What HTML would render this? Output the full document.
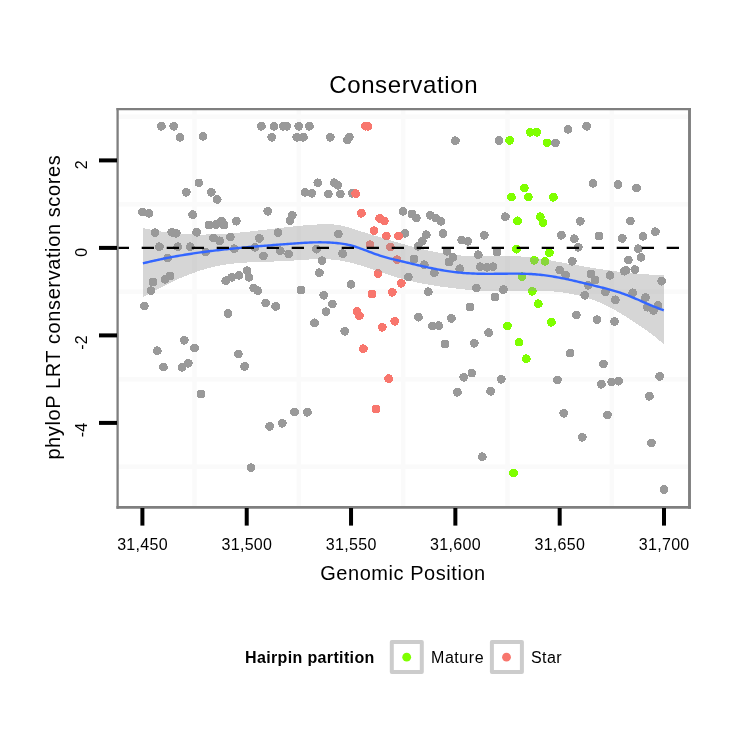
<!DOCTYPE html>
<html><head><meta charset="utf-8"><style>
html,body{margin:0;padding:0;background:#fff;}
svg{display:block;will-change:transform;}
text{font-family:"Liberation Sans",Arial,sans-serif;fill:#000;}
</style></head><body>
<svg width="750" height="750" viewBox="0 0 750 750">
<rect width="750" height="750" fill="#fff"/>
<g stroke="#FAFAFA" stroke-width="4.5">
<line x1="194.56" y1="109.1" x2="194.56" y2="507.2"/>
<line x1="298.88" y1="109.1" x2="298.88" y2="507.2"/>
<line x1="403.2" y1="109.1" x2="403.2" y2="507.2"/>
<line x1="507.52" y1="109.1" x2="507.52" y2="507.2"/>
<line x1="611.84" y1="109.1" x2="611.84" y2="507.2"/>
<line x1="117.6" y1="116.65" x2="689.4" y2="116.65"/>
<line x1="117.6" y1="204.15" x2="689.4" y2="204.15"/>
<line x1="117.6" y1="291.65" x2="689.4" y2="291.65"/>
<line x1="117.6" y1="379.15" x2="689.4" y2="379.15"/>
<line x1="117.6" y1="466.65" x2="689.4" y2="466.65"/>
</g>
<g shape-rendering="crispEdges">
<circle cx="161.4" cy="126.3" r="4.4" fill="#999999"/>
<circle cx="173.7" cy="126.3" r="4.4" fill="#999999"/>
<circle cx="180.1" cy="137.3" r="4.4" fill="#999999"/>
<circle cx="203" cy="136.3" r="4.4" fill="#999999"/>
<circle cx="198.9" cy="182.9" r="4.4" fill="#999999"/>
<circle cx="186.3" cy="192.3" r="4.4" fill="#999999"/>
<circle cx="211.3" cy="192.3" r="4.4" fill="#999999"/>
<circle cx="217.3" cy="199.5" r="4.4" fill="#999999"/>
<circle cx="261.4" cy="126.3" r="4.4" fill="#999999"/>
<circle cx="274.1" cy="126.3" r="4.4" fill="#999999"/>
<circle cx="283.3" cy="126.3" r="4.4" fill="#999999"/>
<circle cx="286.6" cy="126.3" r="4.4" fill="#999999"/>
<circle cx="298.7" cy="126.3" r="4.4" fill="#999999"/>
<circle cx="309.4" cy="126.3" r="4.4" fill="#999999"/>
<circle cx="271.7" cy="137.3" r="4.4" fill="#999999"/>
<circle cx="296.7" cy="137.3" r="4.4" fill="#999999"/>
<circle cx="303.4" cy="137.3" r="4.4" fill="#999999"/>
<circle cx="305" cy="192.3" r="4.4" fill="#999999"/>
<circle cx="311.7" cy="193.3" r="4.4" fill="#999999"/>
<circle cx="330.3" cy="137.3" r="4.4" fill="#999999"/>
<circle cx="347.2" cy="140.1" r="4.4" fill="#999999"/>
<circle cx="349.3" cy="137.1" r="4.4" fill="#999999"/>
<circle cx="317.8" cy="182.8" r="4.4" fill="#999999"/>
<circle cx="334.3" cy="182.7" r="4.4" fill="#999999"/>
<circle cx="337.7" cy="185.3" r="4.4" fill="#999999"/>
<circle cx="328.3" cy="194" r="4.4" fill="#999999"/>
<circle cx="340.3" cy="194" r="4.4" fill="#999999"/>
<circle cx="352.3" cy="193.3" r="4.4" fill="#999999"/>
<circle cx="455.4" cy="140.7" r="4.4" fill="#999999"/>
<circle cx="499" cy="140.4" r="4.4" fill="#999999"/>
<circle cx="555.4" cy="142.9" r="4.4" fill="#999999"/>
<circle cx="567.9" cy="129.3" r="4.4" fill="#999999"/>
<circle cx="586.6" cy="126.3" r="4.4" fill="#999999"/>
<circle cx="593" cy="183.3" r="4.4" fill="#999999"/>
<circle cx="618" cy="184.5" r="4.4" fill="#999999"/>
<circle cx="636.6" cy="188" r="4.4" fill="#999999"/>
<circle cx="142.3" cy="212" r="4.4" fill="#999999"/>
<circle cx="149" cy="213.3" r="4.4" fill="#999999"/>
<circle cx="192.6" cy="214.7" r="4.4" fill="#999999"/>
<circle cx="155" cy="232.7" r="4.4" fill="#999999"/>
<circle cx="171.7" cy="232.3" r="4.4" fill="#999999"/>
<circle cx="176.3" cy="233.3" r="4.4" fill="#999999"/>
<circle cx="196.6" cy="232.3" r="4.4" fill="#999999"/>
<circle cx="209" cy="225" r="4.4" fill="#999999"/>
<circle cx="216" cy="224.4" r="4.4" fill="#999999"/>
<circle cx="221.6" cy="221" r="4.4" fill="#999999"/>
<circle cx="224" cy="225" r="4.4" fill="#999999"/>
<circle cx="236.3" cy="221.2" r="4.4" fill="#999999"/>
<circle cx="213.5" cy="237.9" r="4.4" fill="#999999"/>
<circle cx="219.7" cy="240.8" r="4.4" fill="#999999"/>
<circle cx="230.3" cy="237" r="4.4" fill="#999999"/>
<circle cx="159.4" cy="246.7" r="4.4" fill="#999999"/>
<circle cx="177.7" cy="246.7" r="4.4" fill="#999999"/>
<circle cx="190.3" cy="246.7" r="4.4" fill="#999999"/>
<circle cx="205.7" cy="252" r="4.4" fill="#999999"/>
<circle cx="167.7" cy="258" r="4.4" fill="#999999"/>
<circle cx="170" cy="276" r="4.4" fill="#999999"/>
<circle cx="165" cy="279.3" r="4.4" fill="#999999"/>
<circle cx="153" cy="282" r="4.4" fill="#999999"/>
<circle cx="151" cy="290.7" r="4.4" fill="#999999"/>
<circle cx="144.3" cy="306" r="4.4" fill="#999999"/>
<circle cx="267.7" cy="211.3" r="4.4" fill="#999999"/>
<circle cx="292.3" cy="215.3" r="4.4" fill="#999999"/>
<circle cx="290" cy="220.7" r="4.4" fill="#999999"/>
<circle cx="278" cy="232.7" r="4.4" fill="#999999"/>
<circle cx="259.4" cy="238.4" r="4.4" fill="#999999"/>
<circle cx="234.3" cy="248.7" r="4.4" fill="#999999"/>
<circle cx="255" cy="247.3" r="4.4" fill="#999999"/>
<circle cx="263.4" cy="256" r="4.4" fill="#999999"/>
<circle cx="280.3" cy="250.7" r="4.4" fill="#999999"/>
<circle cx="288.7" cy="254" r="4.4" fill="#999999"/>
<circle cx="225.7" cy="280.7" r="4.4" fill="#999999"/>
<circle cx="231.7" cy="277.3" r="4.4" fill="#999999"/>
<circle cx="239" cy="275.3" r="4.4" fill="#999999"/>
<circle cx="247" cy="270.7" r="4.4" fill="#999999"/>
<circle cx="249" cy="277.3" r="4.4" fill="#999999"/>
<circle cx="253.7" cy="288" r="4.4" fill="#999999"/>
<circle cx="257.7" cy="290.7" r="4.4" fill="#999999"/>
<circle cx="301" cy="290" r="4.4" fill="#999999"/>
<circle cx="265.7" cy="303" r="4.4" fill="#999999"/>
<circle cx="275.7" cy="306.5" r="4.4" fill="#999999"/>
<circle cx="403" cy="211.3" r="4.4" fill="#999999"/>
<circle cx="412" cy="214" r="4.4" fill="#999999"/>
<circle cx="416.3" cy="218" r="4.4" fill="#999999"/>
<circle cx="338.3" cy="234" r="4.4" fill="#999999"/>
<circle cx="405" cy="233.3" r="4.4" fill="#999999"/>
<circle cx="316.5" cy="249.3" r="4.4" fill="#999999"/>
<circle cx="342.6" cy="253.6" r="4.4" fill="#999999"/>
<circle cx="414" cy="259" r="4.4" fill="#999999"/>
<circle cx="322.1" cy="260.7" r="4.4" fill="#999999"/>
<circle cx="319.4" cy="272.7" r="4.4" fill="#999999"/>
<circle cx="408.3" cy="277.1" r="4.4" fill="#999999"/>
<circle cx="351" cy="284.3" r="4.4" fill="#999999"/>
<circle cx="323.7" cy="295.3" r="4.4" fill="#999999"/>
<circle cx="332.3" cy="304" r="4.4" fill="#999999"/>
<circle cx="430.3" cy="215.3" r="4.4" fill="#999999"/>
<circle cx="435.7" cy="218" r="4.4" fill="#999999"/>
<circle cx="441" cy="221.3" r="4.4" fill="#999999"/>
<circle cx="505.4" cy="216.7" r="4.4" fill="#999999"/>
<circle cx="426.3" cy="234.7" r="4.4" fill="#999999"/>
<circle cx="422.3" cy="241.3" r="4.4" fill="#999999"/>
<circle cx="418" cy="246.3" r="4.4" fill="#999999"/>
<circle cx="443" cy="233.6" r="4.4" fill="#999999"/>
<circle cx="461.7" cy="240" r="4.4" fill="#999999"/>
<circle cx="467.7" cy="241.3" r="4.4" fill="#999999"/>
<circle cx="484.3" cy="235.3" r="4.4" fill="#999999"/>
<circle cx="447" cy="251.3" r="4.4" fill="#999999"/>
<circle cx="453" cy="257.3" r="4.4" fill="#999999"/>
<circle cx="449" cy="262" r="4.4" fill="#999999"/>
<circle cx="478.3" cy="254.7" r="4.4" fill="#999999"/>
<circle cx="497" cy="252" r="4.4" fill="#999999"/>
<circle cx="424.3" cy="264.7" r="4.4" fill="#999999"/>
<circle cx="434.3" cy="272.7" r="4.4" fill="#999999"/>
<circle cx="459.7" cy="268.7" r="4.4" fill="#999999"/>
<circle cx="480.3" cy="266.7" r="4.4" fill="#999999"/>
<circle cx="487" cy="267.3" r="4.4" fill="#999999"/>
<circle cx="493" cy="266.7" r="4.4" fill="#999999"/>
<circle cx="428.3" cy="291.7" r="4.4" fill="#999999"/>
<circle cx="476.3" cy="288" r="4.4" fill="#999999"/>
<circle cx="503.4" cy="289.6" r="4.4" fill="#999999"/>
<circle cx="495" cy="297" r="4.4" fill="#999999"/>
<circle cx="470" cy="307" r="4.4" fill="#999999"/>
<circle cx="580.3" cy="221.3" r="4.4" fill="#999999"/>
<circle cx="561.4" cy="235.3" r="4.4" fill="#999999"/>
<circle cx="574.3" cy="238.7" r="4.4" fill="#999999"/>
<circle cx="599" cy="236" r="4.4" fill="#999999"/>
<circle cx="578.3" cy="247.3" r="4.4" fill="#999999"/>
<circle cx="572.3" cy="261.3" r="4.4" fill="#999999"/>
<circle cx="559.7" cy="270" r="4.4" fill="#999999"/>
<circle cx="565.7" cy="275.3" r="4.4" fill="#999999"/>
<circle cx="591" cy="274" r="4.4" fill="#999999"/>
<circle cx="595" cy="280" r="4.4" fill="#999999"/>
<circle cx="588.3" cy="285.3" r="4.4" fill="#999999"/>
<circle cx="610" cy="275.3" r="4.4" fill="#999999"/>
<circle cx="584.7" cy="295.3" r="4.4" fill="#999999"/>
<circle cx="605.4" cy="292" r="4.4" fill="#999999"/>
<circle cx="615.3" cy="299.8" r="4.4" fill="#999999"/>
<circle cx="630.3" cy="220.9" r="4.4" fill="#999999"/>
<circle cx="655.4" cy="231.7" r="4.4" fill="#999999"/>
<circle cx="643" cy="236.3" r="4.4" fill="#999999"/>
<circle cx="622.3" cy="238.4" r="4.4" fill="#999999"/>
<circle cx="638.3" cy="248.7" r="4.4" fill="#999999"/>
<circle cx="641" cy="257.3" r="4.4" fill="#999999"/>
<circle cx="628.3" cy="260" r="4.4" fill="#999999"/>
<circle cx="624.3" cy="271.2" r="4.4" fill="#999999"/>
<circle cx="625.9" cy="270.4" r="4.4" fill="#999999"/>
<circle cx="634.8" cy="269.6" r="4.4" fill="#999999"/>
<circle cx="661.7" cy="281.2" r="4.4" fill="#999999"/>
<circle cx="632.7" cy="292.8" r="4.4" fill="#999999"/>
<circle cx="645.4" cy="297.6" r="4.4" fill="#999999"/>
<circle cx="647.2" cy="307.2" r="4.4" fill="#999999"/>
<circle cx="653.6" cy="310.4" r="4.4" fill="#999999"/>
<circle cx="658" cy="305.6" r="4.4" fill="#999999"/>
<circle cx="184.3" cy="340.3" r="4.4" fill="#999999"/>
<circle cx="194.6" cy="348" r="4.4" fill="#999999"/>
<circle cx="157.3" cy="350.7" r="4.4" fill="#999999"/>
<circle cx="163.4" cy="367.1" r="4.4" fill="#999999"/>
<circle cx="182.1" cy="367.3" r="4.4" fill="#999999"/>
<circle cx="188.3" cy="363.3" r="4.4" fill="#999999"/>
<circle cx="201" cy="394" r="4.4" fill="#999999"/>
<circle cx="227.9" cy="313.6" r="4.4" fill="#999999"/>
<circle cx="238.3" cy="354" r="4.4" fill="#999999"/>
<circle cx="244.6" cy="366.4" r="4.4" fill="#999999"/>
<circle cx="326.1" cy="311.7" r="4.4" fill="#999999"/>
<circle cx="314.5" cy="322.8" r="4.4" fill="#999999"/>
<circle cx="344.7" cy="331.3" r="4.4" fill="#999999"/>
<circle cx="418.5" cy="317.3" r="4.4" fill="#999999"/>
<circle cx="432.3" cy="326" r="4.4" fill="#999999"/>
<circle cx="438.6" cy="325.7" r="4.4" fill="#999999"/>
<circle cx="451.4" cy="318.4" r="4.4" fill="#999999"/>
<circle cx="488.6" cy="332.7" r="4.4" fill="#999999"/>
<circle cx="445" cy="344" r="4.4" fill="#999999"/>
<circle cx="474.3" cy="343.3" r="4.4" fill="#999999"/>
<circle cx="471.9" cy="373.1" r="4.4" fill="#999999"/>
<circle cx="463.7" cy="377.3" r="4.4" fill="#999999"/>
<circle cx="501.3" cy="379.3" r="4.4" fill="#999999"/>
<circle cx="457.4" cy="392.3" r="4.4" fill="#999999"/>
<circle cx="490.6" cy="391.3" r="4.4" fill="#999999"/>
<circle cx="576.3" cy="314.9" r="4.4" fill="#999999"/>
<circle cx="597" cy="319.7" r="4.4" fill="#999999"/>
<circle cx="614.5" cy="321.6" r="4.4" fill="#999999"/>
<circle cx="570.1" cy="353.1" r="4.4" fill="#999999"/>
<circle cx="603.4" cy="364" r="4.4" fill="#999999"/>
<circle cx="557.4" cy="380" r="4.4" fill="#999999"/>
<circle cx="601.4" cy="384.3" r="4.4" fill="#999999"/>
<circle cx="611.7" cy="382" r="4.4" fill="#999999"/>
<circle cx="618.5" cy="381.2" r="4.4" fill="#999999"/>
<circle cx="659.7" cy="376.4" r="4.4" fill="#999999"/>
<circle cx="649.4" cy="396.3" r="4.4" fill="#999999"/>
<circle cx="294.6" cy="412" r="4.4" fill="#999999"/>
<circle cx="307.4" cy="412.3" r="4.4" fill="#999999"/>
<circle cx="269.7" cy="426.4" r="4.4" fill="#999999"/>
<circle cx="282.3" cy="423.3" r="4.4" fill="#999999"/>
<circle cx="251" cy="467.7" r="4.4" fill="#999999"/>
<circle cx="482.3" cy="456.7" r="4.4" fill="#999999"/>
<circle cx="563.7" cy="413.3" r="4.4" fill="#999999"/>
<circle cx="607.4" cy="414.9" r="4.4" fill="#999999"/>
<circle cx="582.3" cy="437.3" r="4.4" fill="#999999"/>
<circle cx="651.4" cy="442.9" r="4.4" fill="#999999"/>
<circle cx="663.9" cy="489.6" r="4.4" fill="#999999"/>
<circle cx="365.5" cy="126.3" r="4.4" fill="#F8766D"/>
<circle cx="368" cy="126.3" r="4.4" fill="#F8766D"/>
<circle cx="355.7" cy="193.6" r="4.4" fill="#F8766D"/>
<circle cx="361.4" cy="213.3" r="4.4" fill="#F8766D"/>
<circle cx="379.7" cy="218.4" r="4.4" fill="#F8766D"/>
<circle cx="384.3" cy="221.1" r="4.4" fill="#F8766D"/>
<circle cx="374.1" cy="230.7" r="4.4" fill="#F8766D"/>
<circle cx="386.3" cy="236" r="4.4" fill="#F8766D"/>
<circle cx="398.6" cy="236" r="4.4" fill="#F8766D"/>
<circle cx="370.1" cy="244.7" r="4.4" fill="#F8766D"/>
<circle cx="390.3" cy="247" r="4.4" fill="#F8766D"/>
<circle cx="397" cy="259.7" r="4.4" fill="#F8766D"/>
<circle cx="378.1" cy="273.6" r="4.4" fill="#F8766D"/>
<circle cx="401.3" cy="283.3" r="4.4" fill="#F8766D"/>
<circle cx="392.3" cy="292.3" r="4.4" fill="#F8766D"/>
<circle cx="372" cy="294" r="4.4" fill="#F8766D"/>
<circle cx="357" cy="311.3" r="4.4" fill="#F8766D"/>
<circle cx="359.4" cy="315.7" r="4.4" fill="#F8766D"/>
<circle cx="394.7" cy="321.3" r="4.4" fill="#F8766D"/>
<circle cx="382.3" cy="327.3" r="4.4" fill="#F8766D"/>
<circle cx="363.4" cy="348.7" r="4.4" fill="#F8766D"/>
<circle cx="388.6" cy="378.7" r="4.4" fill="#F8766D"/>
<circle cx="376" cy="409" r="4.4" fill="#F8766D"/>
<circle cx="509.7" cy="140.4" r="4.4" fill="#7FFF00"/>
<circle cx="511.4" cy="197.1" r="4.4" fill="#7FFF00"/>
<circle cx="530.3" cy="132.3" r="4.4" fill="#7FFF00"/>
<circle cx="536.6" cy="132.3" r="4.4" fill="#7FFF00"/>
<circle cx="547" cy="142.9" r="4.4" fill="#7FFF00"/>
<circle cx="524.3" cy="188" r="4.4" fill="#7FFF00"/>
<circle cx="528.3" cy="196.9" r="4.4" fill="#7FFF00"/>
<circle cx="553.4" cy="197.3" r="4.4" fill="#7FFF00"/>
<circle cx="517.5" cy="220.8" r="4.4" fill="#7FFF00"/>
<circle cx="540.3" cy="216.7" r="4.4" fill="#7FFF00"/>
<circle cx="543" cy="222.7" r="4.4" fill="#7FFF00"/>
<circle cx="516.5" cy="249.3" r="4.4" fill="#7FFF00"/>
<circle cx="549.4" cy="252.7" r="4.4" fill="#7FFF00"/>
<circle cx="534.3" cy="260.3" r="4.4" fill="#7FFF00"/>
<circle cx="545" cy="261.3" r="4.4" fill="#7FFF00"/>
<circle cx="522.1" cy="276.7" r="4.4" fill="#7FFF00"/>
<circle cx="532.3" cy="291.3" r="4.4" fill="#7FFF00"/>
<circle cx="538.3" cy="303.7" r="4.4" fill="#7FFF00"/>
<circle cx="551.4" cy="322.3" r="4.4" fill="#7FFF00"/>
<circle cx="507.4" cy="326" r="4.4" fill="#7FFF00"/>
<circle cx="519" cy="342.2" r="4.4" fill="#7FFF00"/>
<circle cx="526.3" cy="358.7" r="4.4" fill="#7FFF00"/>
<circle cx="513.5" cy="473" r="4.4" fill="#7FFF00"/>
</g>
<path d="M142.9,227.9 L144.64,228.31 L146.38,228.71 L148.13,229.09 L149.87,229.46 L151.61,229.81 L153.35,230.15 L155.09,230.47 L156.84,230.79 L158.58,231.08 L160.32,231.37 L162.06,231.64 L163.81,231.9 L165.55,232.14 L167.29,232.37 L169.03,232.59 L170.77,232.8 L172.52,232.99 L174.26,233.18 L176,233.35 L177.74,233.5 L179.48,233.65 L181.23,233.78 L182.97,233.91 L184.71,234.02 L186.45,234.12 L188.2,234.21 L189.94,234.28 L191.68,234.35 L193.42,234.41 L195.16,234.45 L196.91,234.49 L198.65,234.51 L200.39,234.53 L202.13,234.53 L203.87,234.53 L205.62,234.51 L207.36,234.49 L209.1,234.45 L210.84,234.41 L212.59,234.36 L214.33,234.3 L216.07,234.23 L217.81,234.15 L219.55,234.06 L221.3,233.96 L223.04,233.86 L224.78,233.75 L226.52,233.63 L228.26,233.51 L230.01,233.37 L231.75,233.24 L233.49,233.09 L235.23,232.94 L236.98,232.78 L238.72,232.62 L240.46,232.46 L242.2,232.29 L243.94,232.11 L245.69,231.93 L247.43,231.75 L249.17,231.56 L250.91,231.37 L252.65,231.17 L254.4,230.98 L256.14,230.78 L257.88,230.58 L259.62,230.37 L261.37,230.17 L263.11,229.96 L264.85,229.76 L266.59,229.55 L268.33,229.34 L270.08,229.13 L271.82,228.92 L273.56,228.72 L275.3,228.51 L277.04,228.3 L278.79,228.1 L280.53,227.89 L282.27,227.69 L284.01,227.49 L285.76,227.29 L287.5,227.1 L289.24,226.91 L290.98,226.72 L292.72,226.53 L294.47,226.35 L296.21,226.18 L297.95,226 L299.69,225.84 L301.43,225.67 L303.18,225.51 L304.92,225.36 L306.66,225.22 L308.4,225.08 L310.15,224.94 L311.89,224.81 L313.63,224.69 L315.37,224.58 L317.11,224.47 L318.86,224.38 L320.6,224.29 L322.34,224.22 L324.08,224.18 L325.82,224.15 L327.57,224.15 L329.31,224.19 L331.05,224.26 L332.79,224.38 L334.54,224.54 L336.28,224.74 L338.02,225 L339.76,225.31 L341.5,225.67 L343.25,226.07 L344.99,226.5 L346.73,226.97 L348.47,227.46 L350.21,227.98 L351.96,228.51 L353.7,229.06 L355.44,229.61 L357.18,230.17 L358.93,230.72 L360.67,231.27 L362.41,231.82 L364.15,232.37 L365.89,232.91 L367.64,233.46 L369.38,234 L371.12,234.54 L372.86,235.08 L374.6,235.61 L376.35,236.14 L378.09,236.67 L379.83,237.2 L381.57,237.73 L383.32,238.25 L385.06,238.77 L386.8,239.29 L388.54,239.81 L390.28,240.32 L392.03,240.83 L393.77,241.34 L395.51,241.85 L397.25,242.36 L398.99,242.86 L400.74,243.36 L402.48,243.85 L404.22,244.35 L405.96,244.84 L407.71,245.32 L409.45,245.8 L411.19,246.27 L412.93,246.74 L414.67,247.2 L416.42,247.65 L418.16,248.1 L419.9,248.53 L421.64,248.96 L423.38,249.39 L425.13,249.8 L426.87,250.2 L428.61,250.59 L430.35,250.98 L432.1,251.35 L433.84,251.71 L435.58,252.05 L437.32,252.39 L439.06,252.71 L440.81,253.02 L442.55,253.32 L444.29,253.6 L446.03,253.87 L447.77,254.12 L449.52,254.36 L451.26,254.58 L453,254.79 L454.74,254.98 L456.49,255.15 L458.23,255.31 L459.97,255.44 L461.71,255.57 L463.45,255.67 L465.2,255.76 L466.94,255.84 L468.68,255.91 L470.42,255.96 L472.16,256.01 L473.91,256.04 L475.65,256.06 L477.39,256.08 L479.13,256.09 L480.88,256.09 L482.62,256.09 L484.36,256.08 L486.1,256.07 L487.84,256.06 L489.59,256.04 L491.33,256.03 L493.07,256.01 L494.81,255.99 L496.55,255.98 L498.3,255.97 L500.04,255.96 L501.78,255.96 L503.52,255.96 L505.27,255.97 L507.01,255.98 L508.75,256.01 L510.49,256.04 L512.23,256.08 L513.98,256.14 L515.72,256.2 L517.46,256.28 L519.2,256.37 L520.94,256.47 L522.69,256.59 L524.43,256.73 L526.17,256.88 L527.91,257.05 L529.66,257.24 L531.4,257.44 L533.14,257.66 L534.88,257.89 L536.62,258.14 L538.37,258.4 L540.11,258.67 L541.85,258.95 L543.59,259.24 L545.33,259.54 L547.08,259.84 L548.82,260.15 L550.56,260.46 L552.3,260.77 L554.05,261.09 L555.79,261.41 L557.53,261.73 L559.27,262.04 L561.01,262.36 L562.76,262.68 L564.5,263 L566.24,263.31 L567.98,263.63 L569.72,263.94 L571.47,264.26 L573.21,264.57 L574.95,264.88 L576.69,265.19 L578.44,265.49 L580.18,265.8 L581.92,266.1 L583.66,266.4 L585.4,266.7 L587.15,267 L588.89,267.29 L590.63,267.58 L592.37,267.87 L594.11,268.15 L595.86,268.43 L597.6,268.71 L599.34,268.98 L601.08,269.25 L602.83,269.51 L604.57,269.77 L606.31,270.03 L608.05,270.28 L609.79,270.53 L611.54,270.77 L613.28,271.01 L615.02,271.24 L616.76,271.47 L618.5,271.69 L620.25,271.91 L621.99,272.12 L623.73,272.32 L625.47,272.52 L627.22,272.71 L628.96,272.9 L630.7,273.08 L632.44,273.25 L634.18,273.41 L635.93,273.57 L637.67,273.72 L639.41,273.87 L641.15,274 L642.89,274.13 L644.64,274.25 L646.38,274.37 L648.12,274.47 L649.86,274.57 L651.61,274.65 L653.35,274.73 L655.09,274.8 L656.83,274.86 L658.57,274.92 L660.32,274.96 L662.06,274.99 L663.8,275.02 L663.8,344.52 L662.06,342.88 L660.32,341.3 L658.57,339.77 L656.83,338.29 L655.09,336.85 L653.35,335.46 L651.61,334.11 L649.86,332.79 L648.12,331.5 L646.38,330.25 L644.64,329.02 L642.89,327.82 L641.15,326.63 L639.41,325.47 L637.67,324.31 L635.93,323.17 L634.18,322.03 L632.44,320.9 L630.7,319.78 L628.96,318.67 L627.22,317.57 L625.47,316.47 L623.73,315.39 L621.99,314.33 L620.25,313.28 L618.5,312.24 L616.76,311.23 L615.02,310.23 L613.28,309.25 L611.54,308.3 L609.79,307.36 L608.05,306.45 L606.31,305.57 L604.57,304.71 L602.83,303.88 L601.08,303.08 L599.34,302.31 L597.6,301.57 L595.86,300.86 L594.11,300.19 L592.37,299.55 L590.63,298.94 L588.89,298.35 L587.15,297.8 L585.4,297.27 L583.66,296.77 L581.92,296.3 L580.18,295.85 L578.44,295.42 L576.69,295.01 L574.95,294.62 L573.21,294.26 L571.47,293.91 L569.72,293.59 L567.98,293.28 L566.24,292.99 L564.5,292.72 L562.76,292.47 L561.01,292.24 L559.27,292.02 L557.53,291.83 L555.79,291.65 L554.05,291.48 L552.3,291.33 L550.56,291.2 L548.82,291.09 L547.08,290.98 L545.33,290.9 L543.59,290.83 L541.85,290.77 L540.11,290.72 L538.37,290.69 L536.62,290.67 L534.88,290.67 L533.14,290.67 L531.4,290.69 L529.66,290.71 L527.91,290.75 L526.17,290.79 L524.43,290.83 L522.69,290.88 L520.94,290.94 L519.2,291 L517.46,291.05 L515.72,291.11 L513.98,291.17 L512.23,291.23 L510.49,291.28 L508.75,291.33 L507.01,291.38 L505.27,291.41 L503.52,291.44 L501.78,291.47 L500.04,291.48 L498.3,291.48 L496.55,291.47 L494.81,291.45 L493.07,291.41 L491.33,291.37 L489.59,291.31 L487.84,291.24 L486.1,291.16 L484.36,291.07 L482.62,290.98 L480.88,290.87 L479.13,290.75 L477.39,290.63 L475.65,290.49 L473.91,290.35 L472.16,290.2 L470.42,290.05 L468.68,289.88 L466.94,289.71 L465.2,289.54 L463.45,289.36 L461.71,289.17 L459.97,288.98 L458.23,288.79 L456.49,288.59 L454.74,288.39 L453,288.18 L451.26,287.97 L449.52,287.76 L447.77,287.54 L446.03,287.31 L444.29,287.08 L442.55,286.84 L440.81,286.6 L439.06,286.35 L437.32,286.09 L435.58,285.83 L433.84,285.56 L432.1,285.28 L430.35,284.99 L428.61,284.7 L426.87,284.39 L425.13,284.08 L423.38,283.75 L421.64,283.42 L419.9,283.07 L418.16,282.72 L416.42,282.36 L414.67,281.98 L412.93,281.59 L411.19,281.19 L409.45,280.78 L407.71,280.36 L405.96,279.92 L404.22,279.47 L402.48,279.01 L400.74,278.53 L398.99,278.04 L397.25,277.53 L395.51,277.02 L393.77,276.48 L392.03,275.94 L390.28,275.38 L388.54,274.81 L386.8,274.24 L385.06,273.66 L383.32,273.07 L381.57,272.48 L379.83,271.89 L378.09,271.29 L376.35,270.7 L374.6,270.11 L372.86,269.51 L371.12,268.93 L369.38,268.34 L367.64,267.77 L365.89,267.2 L364.15,266.64 L362.41,266.09 L360.67,265.55 L358.93,265.03 L357.18,264.52 L355.44,264.03 L353.7,263.55 L351.96,263.09 L350.21,262.65 L348.47,262.24 L346.73,261.84 L344.99,261.47 L343.25,261.13 L341.5,260.81 L339.76,260.52 L338.02,260.26 L336.28,260.02 L334.54,259.82 L332.79,259.65 L331.05,259.51 L329.31,259.39 L327.57,259.3 L325.82,259.23 L324.08,259.19 L322.34,259.16 L320.6,259.16 L318.86,259.17 L317.11,259.2 L315.37,259.25 L313.63,259.31 L311.89,259.38 L310.15,259.46 L308.4,259.56 L306.66,259.66 L304.92,259.77 L303.18,259.88 L301.43,260 L299.69,260.12 L297.95,260.25 L296.21,260.37 L294.47,260.5 L292.72,260.62 L290.98,260.73 L289.24,260.84 L287.5,260.95 L285.76,261.04 L284.01,261.13 L282.27,261.21 L280.53,261.29 L278.79,261.36 L277.04,261.42 L275.3,261.48 L273.56,261.54 L271.82,261.59 L270.08,261.64 L268.33,261.69 L266.59,261.74 L264.85,261.79 L263.11,261.85 L261.37,261.9 L259.62,261.95 L257.88,262.01 L256.14,262.08 L254.4,262.14 L252.65,262.22 L250.91,262.3 L249.17,262.38 L247.43,262.48 L245.69,262.58 L243.94,262.69 L242.2,262.81 L240.46,262.95 L238.72,263.09 L236.98,263.25 L235.23,263.42 L233.49,263.6 L231.75,263.8 L230.01,264.01 L228.26,264.24 L226.52,264.49 L224.78,264.75 L223.04,265.03 L221.3,265.33 L219.55,265.65 L217.81,265.99 L216.07,266.35 L214.33,266.74 L212.59,267.14 L210.84,267.57 L209.1,268.01 L207.36,268.48 L205.62,268.97 L203.87,269.47 L202.13,270 L200.39,270.54 L198.65,271.11 L196.91,271.69 L195.16,272.29 L193.42,272.91 L191.68,273.55 L189.94,274.2 L188.2,274.87 L186.45,275.56 L184.71,276.27 L182.97,276.99 L181.23,277.73 L179.48,278.48 L177.74,279.25 L176,280.03 L174.26,280.83 L172.52,281.65 L170.77,282.47 L169.03,283.32 L167.29,284.17 L165.55,285.04 L163.81,285.92 L162.06,286.81 L160.32,287.72 L158.58,288.63 L156.84,289.56 L155.09,290.5 L153.35,291.44 L151.61,292.4 L149.87,293.37 L148.13,294.35 L146.38,295.33 L144.64,296.32 L142.9,297.32 Z" fill="#999999" fill-opacity="0.4" shape-rendering="crispEdges"/>
<path d="M142.9,263.39 L144.64,262.96 L146.38,262.53 L148.13,262.11 L149.87,261.69 L151.61,261.29 L153.35,260.89 L155.09,260.5 L156.84,260.11 L158.58,259.73 L160.32,259.36 L162.06,259 L163.81,258.64 L165.55,258.28 L167.29,257.94 L169.03,257.6 L170.77,257.26 L172.52,256.93 L174.26,256.61 L176,256.3 L177.74,255.99 L179.48,255.68 L181.23,255.38 L182.97,255.09 L184.71,254.8 L186.45,254.52 L188.2,254.24 L189.94,253.96 L191.68,253.7 L193.42,253.43 L195.16,253.18 L196.91,252.92 L198.65,252.67 L200.39,252.43 L202.13,252.19 L203.87,251.95 L205.62,251.72 L207.36,251.49 L209.1,251.27 L210.84,251.05 L212.59,250.84 L214.33,250.63 L216.07,250.42 L217.81,250.21 L219.55,250.01 L221.3,249.82 L223.04,249.62 L224.78,249.43 L226.52,249.25 L228.26,249.06 L230.01,248.88 L231.75,248.7 L233.49,248.53 L235.23,248.35 L236.98,248.18 L238.72,248.02 L240.46,247.85 L242.2,247.69 L243.94,247.53 L245.69,247.37 L247.43,247.21 L249.17,247.06 L250.91,246.91 L252.65,246.76 L254.4,246.61 L256.14,246.46 L257.88,246.31 L259.62,246.17 L261.37,246.03 L263.11,245.89 L264.85,245.75 L266.59,245.61 L268.33,245.47 L270.08,245.33 L271.82,245.19 L273.56,245.06 L275.3,244.92 L277.04,244.79 L278.79,244.65 L280.53,244.52 L282.27,244.38 L284.01,244.25 L285.76,244.12 L287.5,243.98 L289.24,243.85 L290.98,243.72 L292.72,243.58 L294.47,243.46 L296.21,243.33 L297.95,243.21 L299.69,243.09 L301.43,242.98 L303.18,242.87 L304.92,242.78 L306.66,242.68 L308.4,242.6 L310.15,242.53 L311.89,242.46 L313.63,242.41 L315.37,242.37 L317.11,242.34 L318.86,242.32 L320.6,242.32 L322.34,242.33 L324.08,242.36 L325.82,242.4 L327.57,242.46 L329.31,242.53 L331.05,242.63 L332.79,242.74 L334.54,242.87 L336.28,243.02 L338.02,243.2 L339.76,243.39 L341.5,243.62 L343.25,243.87 L344.99,244.16 L346.73,244.48 L348.47,244.85 L350.21,245.26 L351.96,245.71 L353.7,246.21 L355.44,246.74 L357.18,247.31 L358.93,247.91 L360.67,248.53 L362.41,249.16 L364.15,249.82 L365.89,250.48 L367.64,251.15 L369.38,251.81 L371.12,252.47 L372.86,253.13 L374.6,253.76 L376.35,254.38 L378.09,254.98 L379.83,255.55 L381.57,256.1 L383.32,256.62 L385.06,257.13 L386.8,257.62 L388.54,258.09 L390.28,258.55 L392.03,259 L393.77,259.44 L395.51,259.86 L397.25,260.28 L398.99,260.7 L400.74,261.11 L402.48,261.52 L404.22,261.93 L405.96,262.35 L407.71,262.76 L409.45,263.17 L411.19,263.58 L412.93,263.99 L414.67,264.4 L416.42,264.81 L418.16,265.21 L419.9,265.61 L421.64,266.01 L423.38,266.4 L425.13,266.79 L426.87,267.17 L428.61,267.55 L430.35,267.92 L432.1,268.28 L433.84,268.63 L435.58,268.98 L437.32,269.32 L439.06,269.64 L440.81,269.96 L442.55,270.27 L444.29,270.57 L446.03,270.85 L447.77,271.13 L449.52,271.39 L451.26,271.63 L453,271.87 L454.74,272.09 L456.49,272.29 L458.23,272.48 L459.97,272.65 L461.71,272.81 L463.45,272.96 L465.2,273.09 L466.94,273.21 L468.68,273.32 L470.42,273.41 L472.16,273.49 L473.91,273.57 L475.65,273.63 L477.39,273.68 L479.13,273.73 L480.88,273.76 L482.62,273.79 L484.36,273.81 L486.1,273.83 L487.84,273.83 L489.59,273.84 L491.33,273.83 L493.07,273.83 L494.81,273.81 L496.55,273.8 L498.3,273.78 L500.04,273.76 L501.78,273.74 L503.52,273.72 L505.27,273.7 L507.01,273.68 L508.75,273.67 L510.49,273.65 L512.23,273.65 L513.98,273.64 L515.72,273.64 L517.46,273.65 L519.2,273.67 L520.94,273.69 L522.69,273.73 L524.43,273.77 L526.17,273.83 L527.91,273.9 L529.66,273.98 L531.4,274.07 L533.14,274.18 L534.88,274.3 L536.62,274.44 L538.37,274.6 L540.11,274.77 L541.85,274.97 L543.59,275.17 L545.33,275.39 L547.08,275.63 L548.82,275.88 L550.56,276.15 L552.3,276.43 L554.05,276.72 L555.79,277.02 L557.53,277.33 L559.27,277.66 L561.01,277.99 L562.76,278.34 L564.5,278.69 L566.24,279.06 L567.98,279.43 L569.72,279.81 L571.47,280.19 L573.21,280.59 L574.95,280.99 L576.69,281.39 L578.44,281.8 L580.18,282.21 L581.92,282.63 L583.66,283.05 L585.4,283.48 L587.15,283.9 L588.89,284.33 L590.63,284.76 L592.37,285.19 L594.11,285.62 L595.86,286.05 L597.6,286.48 L599.34,286.91 L601.08,287.34 L602.83,287.77 L604.57,288.21 L606.31,288.65 L608.05,289.11 L609.79,289.57 L611.54,290.05 L613.28,290.55 L615.02,291.06 L616.76,291.59 L618.5,292.14 L620.25,292.72 L621.99,293.32 L623.73,293.94 L625.47,294.58 L627.22,295.24 L628.96,295.92 L630.7,296.62 L632.44,297.33 L634.18,298.05 L635.93,298.78 L637.67,299.52 L639.41,300.27 L641.15,301.03 L642.89,301.78 L644.64,302.54 L646.38,303.3 L648.12,304.05 L649.86,304.8 L651.61,305.54 L653.35,306.27 L655.09,306.99 L656.83,307.7 L658.57,308.39 L660.32,309.06 L662.06,309.72 L663.8,310.35" fill="none" stroke="#3366FF" stroke-width="2.4"/>
<line x1="116.7" y1="247.9" x2="690" y2="247.9" stroke="#000" stroke-width="2.2" stroke-dasharray="12.3 12.7"/>
<g stroke="#7F7F7F" fill="none">
<path d="M116.45,109.1 H690.95" stroke-width="2.3"/>
<path d="M117.6,107.95 V508.85" stroke-width="2.3"/>
<path d="M689.5,107.95 V508.85" stroke-width="2.9"/>
<path d="M116.45,507.4 H690.95" stroke-width="2.9"/>
</g>
<g stroke="#000" stroke-width="4">
<line x1="142.4" y1="508" x2="142.4" y2="525.6"/>
<line x1="246.72" y1="508" x2="246.72" y2="525.6"/>
<line x1="351.04" y1="508" x2="351.04" y2="525.6"/>
<line x1="455.36" y1="508" x2="455.36" y2="525.6"/>
<line x1="559.68" y1="508" x2="559.68" y2="525.6"/>
<line x1="664" y1="508" x2="664" y2="525.6"/>
<line x1="99" y1="160.4" x2="117" y2="160.4"/>
<line x1="99" y1="247.9" x2="117" y2="247.9"/>
<line x1="99" y1="335.4" x2="117" y2="335.4"/>
<line x1="99" y1="422.9" x2="117" y2="422.9"/>
</g>
<text id="xl0" x="117.15" y="550" font-size="16" textLength="50.5" >31,450</text>
<text id="xl1" x="221.47" y="550" font-size="16" textLength="50.5" >31,500</text>
<text id="xl2" x="325.79" y="550" font-size="16" textLength="50.5" >31,550</text>
<text id="xl3" x="430.11" y="550" font-size="16" textLength="50.5" >31,600</text>
<text id="xl4" x="534.43" y="550" font-size="16" textLength="50.5" >31,650</text>
<text id="xl5" x="638.75" y="550" font-size="16" textLength="50.5" >31,700</text>
<g font-size="16" text-anchor="end">
<text transform="translate(87.2,160.4) rotate(-90)">2</text>
<text transform="translate(87.2,247.9) rotate(-90)">0</text>
<text transform="translate(87.2,335.4) rotate(-90)">-2</text>
<text transform="translate(87.2,422.9) rotate(-90)">-4</text>
</g>
<text id="title" x="329.2" y="92.6" font-size="24" textLength="148.3" >Conservation</text>
<text id="xtitle" x="320.2" y="579.7" font-size="20" textLength="165" >Genomic Position</text>
<text id="ytitle" transform="translate(60,459.6) rotate(-90)" font-size="20" textLength="304.3">phyloP LRT conservation scores</text>
<text id="legtitle" x="245" y="662.9" font-size="16" textLength="129.3" font-weight="bold">Hairpin partition</text>
<rect x="391.8" y="642" width="30" height="30" fill="#fff" stroke="#CCCCCC" stroke-width="4" stroke-linejoin="round"/>
<circle cx="406.7" cy="657.2" r="4.4" fill="#7FFF00"/>
<text id="mature" x="431" y="662.8" font-size="16" textLength="52.6" >Mature</text>
<rect x="491.9" y="642" width="30" height="30" fill="#fff" stroke="#CCCCCC" stroke-width="4" stroke-linejoin="round"/>
<circle cx="506.5" cy="657.2" r="4.4" fill="#F8766D"/>
<text id="star" x="531" y="662.7" font-size="16" textLength="30.7" >Star</text>
</svg>
</body></html>
